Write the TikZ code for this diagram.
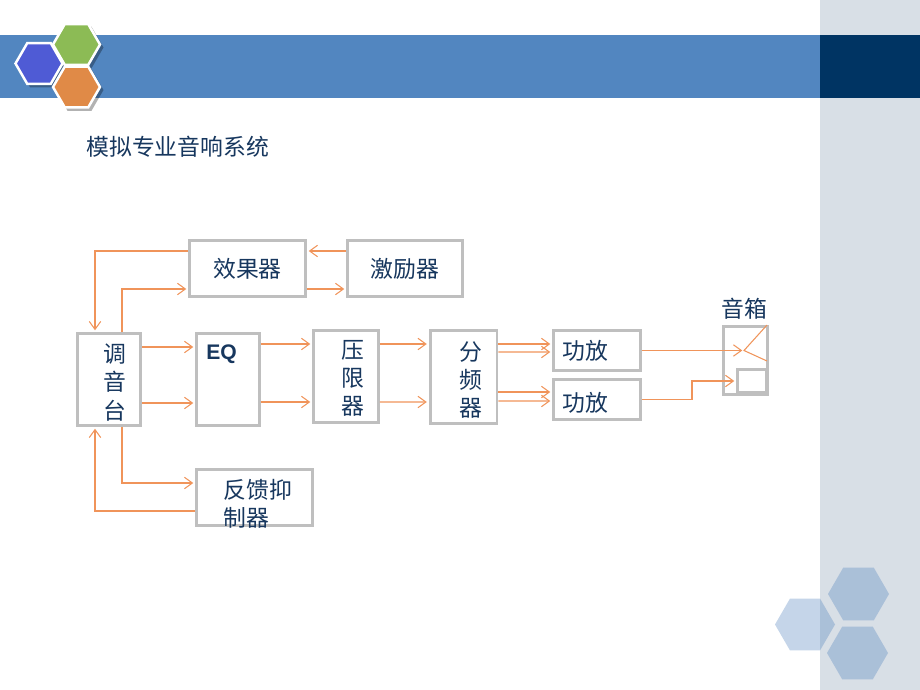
\documentclass[tikz,border=0pt]{standalone}
\usepackage{fontspec}
\setmainfont{Liberation Sans}
\newfontfamily\cjk{Noto Sans CJK SC}
\usetikzlibrary{calc,arrows.meta}

\definecolor{bandblue}{HTML}{5286C0}
\definecolor{bandnavy}{HTML}{003463}
\definecolor{stripgray}{HTML}{D8DFE6}
\definecolor{hexblue}{HTML}{4F5BD5}
\definecolor{hexgreen}{HTML}{8CBB55}
\definecolor{hexorange}{HTML}{E08A47}
\definecolor{hexpale}{HTML}{4F81BD}
\definecolor{wordblue}{HTML}{17375E}
\definecolor{boxgray}{HTML}{BFBFBF}
\definecolor{linkorange}{HTML}{F0945A}

\tikzset{
  box/.style={draw=boxgray, line width=1.7pt, inner sep=0pt, fill=white},
  word/.style={text=wordblue, inner sep=0pt, align=center, font=\cjk\fontsize{13}{16}\selectfont},
  link/.style={draw=linkorange, line width=0.6pt, ->, shorten >=1pt},
}

\begin{document}
\begin{tikzpicture}[x=0.02cm, y=-0.02cm, >={Straight Barb[length=4.5pt,width=6.5pt]}]
\useasboundingbox (0,0) rectangle (920,690);
\fill[stripgray] (820,0) rectangle (920,690);
\fill[bandblue] (0,34.5) rectangle (820,97.5);
\fill[bandnavy] (820,34.5) rectangle (920,97.5);

\foreach \cx/\cy/\col in {39/63.5/hexblue, 76.5/44.5/hexgreen, 76.5/87/hexorange} {
  \fill[black, opacity=0.3] (\cx+3,\cy+3) +(0:24) -- +(60:24) -- +(120:24) -- +(180:24) -- +(240:24) -- +(300:24) -- cycle;
  \filldraw[fill=\col, draw=white, line width=1.4pt] (\cx,\cy) +(0:23.5) -- +(60:23.5) -- +(120:23.5) -- +(180:23.5) -- +(240:23.5) -- +(300:23.5) -- cycle;
}
\foreach \cx/\cy/\r in {858.5/594/30.5, 857.5/653/30.5, 805/624.5/30} {
  \fill[hexpale, opacity=0.33] (\cx,\cy) +(0:\r) -- +(60:\r) -- +(120:\r) -- +(180:\r) -- +(240:\r) -- +(300:\r) -- cycle;
}

\node[word, anchor=west] (title) at (86,147) {模拟专业音响系统};

\node[box, word, minimum width=2.32cm, minimum height=1.12cm] (xiaoguo) at (247.5,268.5) {效果器};
\node[box, word, minimum width=2.30cm, minimum height=1.12cm] (jili) at (405,268.5) {激励器};
\node[box, minimum width=1.26cm, minimum height=1.84cm] (tiaoyin) at (109,379.5) {};
\node[box, minimum width=1.26cm, minimum height=1.84cm] (eq) at (228,379.5) {};
\node[box, minimum width=1.30cm, minimum height=1.84cm] (yaxian) at (346,376.5) {};
\node[box, minimum width=1.34cm, minimum height=1.86cm] (fenpin) at (463.5,377) {};
\node[box, minimum width=1.74cm, minimum height=0.80cm] (gongfang1) at (597,350.5) {};
\node[box, minimum width=1.74cm, minimum height=0.80cm] (gongfang2) at (597,399.5) {};
\node[box, minimum width=0.88cm, minimum height=1.36cm] (yinxiang) at (745.5,360.5) {};
\node[box, minimum width=0.58cm, minimum height=0.47cm] (woofer) at (752,381) {};
\node[box, minimum width=2.32cm, minimum height=1.12cm] (fankui) at (254.5,497.5) {};

\node[word] (t-tiaoyin) at (115,382.5) {调\\音\\台};
\node[word, font=\bfseries\fontsize{12}{14}\selectfont] (t-eq) at (221.5,354.5) {EQ};
\node[word] (t-yaxian) at (352.5,378.5) {压\\限\\器};
\node[word] (t-fenpin) at (471,380) {分\\频\\器};
\node[word] (t-gongfang1) at (585,351) {功放};
\node[word] (t-gongfang2) at (585,402.5) {功放};
\node[word] (t-yinxiang) at (744,309) {音箱};
\node[word, align=left, anchor=west] (t-fankui) at (223,503.5) {反馈抑\\制器};

\coordinate (horn) at ($(yinxiang.center)+(-1.5,-10)$);
\draw[linkorange, line width=0.6pt] ($(yinxiang.north east)+(-2,0)$) -- (horn) -- ($(yinxiang.east)+(-2,0.5)$);

\draw[link] ($(xiaoguo.west)+(0,-17.5)$) -| ($(tiaoyin.north)+(-14,0)$);
\draw[link] ($(tiaoyin.north)+(13,0)$) |- ($(xiaoguo.west)+(0,20.5)$);
\draw[link] ($(jili.west)+(0,-17.5)$) -- ($(xiaoguo.east)+(0,-17.5)$);
\draw[link] ($(xiaoguo.east)+(0,20.5)$) -- ($(jili.west)+(0,20.5)$);
\draw[link] ($(tiaoyin.east)+(0,-32.5)$) -- ($(eq.west)+(0,-32.5)$);
\draw[link] ($(tiaoyin.east)+(0,23.5)$) -- ($(eq.west)+(0,23.5)$);
\draw[link] ($(eq.east)+(0,-35.5)$) -- ($(yaxian.west)+(0,-32.5)$);
\draw[link] ($(eq.east)+(0,22.5)$) -- ($(yaxian.west)+(0,25.5)$);
\draw[link] ($(yaxian.east)+(0,-32.5)$) -- ($(fenpin.west)+(0,-33)$);
\draw[link] ($(yaxian.east)+(0,25.5)$) -- ($(fenpin.west)+(0,25)$);
\draw[link] ($(fenpin.east)+(0,-33)$) -- ($(gongfang1.west)+(0,-6.5)$);
\draw[link] ($(fenpin.east)+(0,-25)$) -- ($(gongfang1.west)+(0,1.5)$);
\draw[link] ($(fenpin.east)+(0,15)$) -- ($(gongfang2.west)+(0,-7.5)$);
\draw[link] ($(fenpin.east)+(0,24)$) -- ($(gongfang2.west)+(0,1.5)$);
\draw[link] (gongfang1.east) -- (horn);
\draw[link] (gongfang2.east) -- ++(50,0) |- (woofer.west);
\draw[link] ($(tiaoyin.south)+(13,0)$) |- ($(fankui.west)+(0,-14.5)$);
\draw[link] ($(fankui.west)+(0,13.5)$) -| ($(tiaoyin.south)+(-14,0)$);
\end{tikzpicture}
\end{document}
